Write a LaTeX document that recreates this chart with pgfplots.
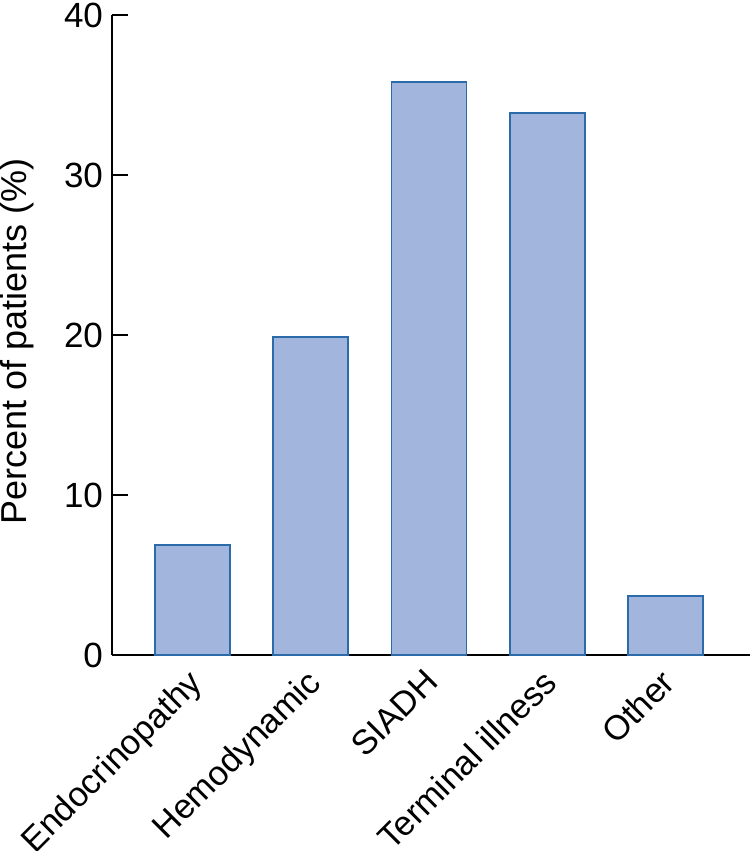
\documentclass[border=0pt]{standalone}
\usepackage{pgfplots}
\pgfplotsset{compat=1.18}
\usepackage{fontspec}
\setmainfont{Liberation Sans}
\definecolor{barfill}{HTML}{A2B5DC}
\definecolor{baredge}{HTML}{2C6BAA}
\begin{document}
\begin{tikzpicture}
\begin{axis}[
  name=ax,
  scale only axis,
  width=319pt, height=320pt,
  xmin=-0.68, xmax=4.715,
  ymin=0, ymax=40,
  axis x line*=bottom,
  axis y line*=left,
  axis line style={line width=1pt, black},
  ytick={0,10,20,30,40},
  ytick style={line width=1pt, black},
  tick align=inside,
  major tick length=8pt,
  xtick=data,
  xtick style={draw=none},
  xticklabels={Endocrinopathy,Hemodynamic,SIADH,Terminal illness,Other},
  x tick label style={xshift=-3pt, yshift=3.5pt, rotate=45, anchor=north east, font=\fontsize{17.2}{20}\selectfont, inner sep=1pt},
  y tick label style={font=\fontsize{17.5}{21}\selectfont, xshift=-1pt},
  /pgf/number format/assume math mode=true,
  ylabel={Percent of patients (\%)},
  ylabel style={font=\fontsize{18}{21}\selectfont, at={(axis description cs:-0.175,0.49)}, anchor=north, inner sep=0pt},
  ybar,
  bar width=37.5pt,
  clip=false,
]
\addplot[fill=barfill, draw=baredge, line width=0.9pt] coordinates {
  (0,6.9) (1,19.9) (2,35.8) (3,33.9) (4,3.7)
};
\end{axis}
\pgfresetboundingbox
\path[use as bounding box] ([xshift=-56pt,yshift=-98pt]ax.south west) rectangle ([yshift=7.5pt]ax.north east);
\end{tikzpicture}
\end{document}
